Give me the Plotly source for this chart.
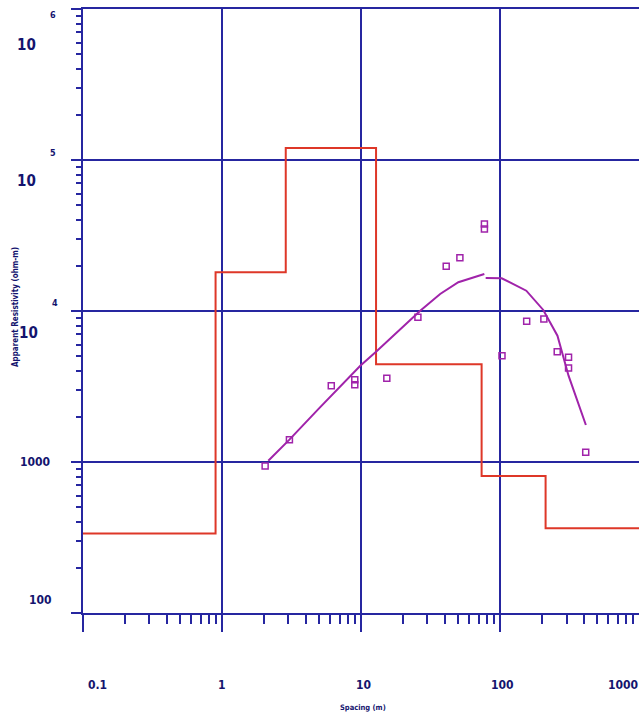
import math
import plotly.graph_objects as go

# ---- data ----
# layered model (step curve)
layer_rho = [336, 18040, 120000, 4436, 808, 364]
layer_bounds = [0.1, 0.898, 2.87, 12.8, 73.5, 212, 1000]

# field data (spacing m, apparent resistivity ohm-m)
obs_x = [2.04, 3.05, 6.1, 9.0, 9.0, 15.3, 25.6, 40.9, 51.3, 77, 77, 103, 155, 206, 257, 310, 310, 412]
obs_y = [942, 1406, 3200, 3500, 3250, 3580, 9080, 19770, 22540, 37700, 34900, 5060, 8550, 8850, 5380, 4940, 4190, 1160]

# calculated curve (two segments)
fit1_x = [2.15, 3.05, 5, 9.86, 12.8, 20, 26.6, 37, 50, 76.9]
fit1_y = [1020, 1406, 2275, 4340, 5380, 7860, 10050, 12970, 15500, 17580]
fit2_x = [78.6, 102.5, 154, 204, 258, 310, 413]
fit2_y = [16550, 16480, 13630, 10160, 6860, 3730, 1758]

x_major = [0.1, 1, 10, 100, 1000]
x_labels = ["0.1", "1", "10", "100", "1000"]
y_major = [100, 1000, 1e4, 1e5, 1e6]

NAVY = "rgb(38,38,160)"
TXT = "rgb(20,20,110)"
RED = "rgb(222,55,40)"
PURP = "rgb(160,35,170)"
FONT = "Liberation Sans Narrow, DejaVu Sans Condensed, Arial Narrow, sans-serif"

def minor_vals(lo, hi):
    out = []
    for e in range(lo, hi):
        for d in range(2, 10):
            out.append(d * 10 ** e)
    return out

fig = go.Figure()

step_y = layer_rho + [layer_rho[-1]]
fig.add_trace(go.Scatter(x=layer_bounds, y=step_y, mode="lines", line=dict(color=RED, width=2, shape="hv"),
                         hoverinfo="skip", showlegend=False))
fig.add_trace(go.Scatter(x=fit1_x + [None] + fit2_x, y=fit1_y + [None] + fit2_y, mode="lines",
                         line=dict(color=PURP, width=2), connectgaps=False, showlegend=False))
fig.add_trace(go.Scatter(x=obs_x, y=obs_y, mode="markers",
                         marker=dict(symbol="square-open", size=6, color=PURP, line=dict(width=1.5, color=PURP)),
                         showlegend=False))

fig.update_xaxes(type="log", range=[-1, 2.998], tickmode="array", tickvals=x_major, showticklabels=False,
                 ticks="outside", ticklen=17, tickwidth=2, tickcolor=NAVY,
                 showgrid=True, gridcolor=NAVY, gridwidth=2,
                 showline=True, linecolor=NAVY, linewidth=2, mirror=True,
                 minor=dict(tickmode="array", tickvals=minor_vals(-1, 3), ticks="outside", ticklen=9,
                            tickwidth=1.5, tickcolor=NAVY, showgrid=False))
fig.update_yaxes(type="log", range=[2, 6], tickmode="array", tickvals=y_major, showticklabels=False,
                 ticks="outside", ticklen=10, tickwidth=2, tickcolor=NAVY,
                 showgrid=True, gridcolor=NAVY, gridwidth=2,
                 showline=True, linecolor=NAVY, linewidth=2,
                 minor=dict(tickmode="array", tickvals=minor_vals(2, 6), ticks="outside", ticklen=5,
                            tickwidth=1.5, tickcolor=NAVY, showgrid=False))

ann = []
PLOT_W = 556.0
PLOT_H = 604.0
def px_to_paper_x(px):
    return (px - 83) / PLOT_W
def px_to_paper_y(py):
    return (613 - py) / PLOT_H

# y-axis labels: "10" with exponent placed above, as in the original
for val, exp, base_shift, exp_shift, bx, ex in [(1e6, "6", -36, -6, 26, 53),
                                                 (1e5, "5", -21, 7, 26, 53),
                                                 (1e4, "4", -22, 8, 28, 55)]:
    ann.append(dict(text="10", xref="paper", yref="y", x=px_to_paper_x(bx), y=math.log10(val),
                    yshift=base_shift, showarrow=False, xanchor="center", yanchor="middle",
                    font=dict(family=FONT, size=15, color=TXT, weight="bold")))
    ann.append(dict(text=exp, xref="paper", yref="y", x=px_to_paper_x(ex), y=math.log10(val),
                    yshift=exp_shift, showarrow=False, xanchor="center", yanchor="middle",
                    font=dict(family=FONT, size=9, color=TXT, weight="bold")))
ann.append(dict(text="1000", xref="paper", yref="y", x=px_to_paper_x(35), y=3, showarrow=False,
                xanchor="center", yanchor="middle", font=dict(family=FONT, size=12, color=TXT, weight="bold")))
ann.append(dict(text="100", xref="paper", yref="y", x=px_to_paper_x(40), y=2, yshift=13, showarrow=False,
                xanchor="center", yanchor="middle", font=dict(family=FONT, size=12, color=TXT, weight="bold")))

# x-axis labels (positions in px, nudged inward at the ends as in the original)
for v, lab, xs in zip(x_major, x_labels, [14, 0, 2, 2, -16]):
    xpx = 83 + 139 * (math.log10(v) + 1) + xs
    ann.append(dict(text=lab, xref="paper", yref="paper", x=px_to_paper_x(xpx), y=px_to_paper_y(685),
                    showarrow=False, xanchor="center", yanchor="middle",
                    font=dict(family=FONT, size=12, color=TXT, weight="bold")))

ann.append(dict(text="Spacing (m)", xref="paper", yref="paper", x=px_to_paper_x(363), y=px_to_paper_y(707),
                showarrow=False, xanchor="center", yanchor="middle",
                font=dict(family=FONT, size=7.5, color=TXT, weight="bold")))
ann.append(dict(text="Apparent Resistivity (ohm-m)", xref="paper", yref="paper", x=px_to_paper_x(15),
                y=px_to_paper_y(307), textangle=-90, showarrow=False, xanchor="center", yanchor="middle",
                font=dict(family=FONT, size=8, color=TXT, weight="bold")))

fig.update_layout(width=639, height=720, autosize=False,
                  margin=dict(l=83, r=0, t=9, b=107, pad=0),
                  paper_bgcolor="white", plot_bgcolor="white",
                  annotations=ann, showlegend=False)

fig.write_html("out.html")
